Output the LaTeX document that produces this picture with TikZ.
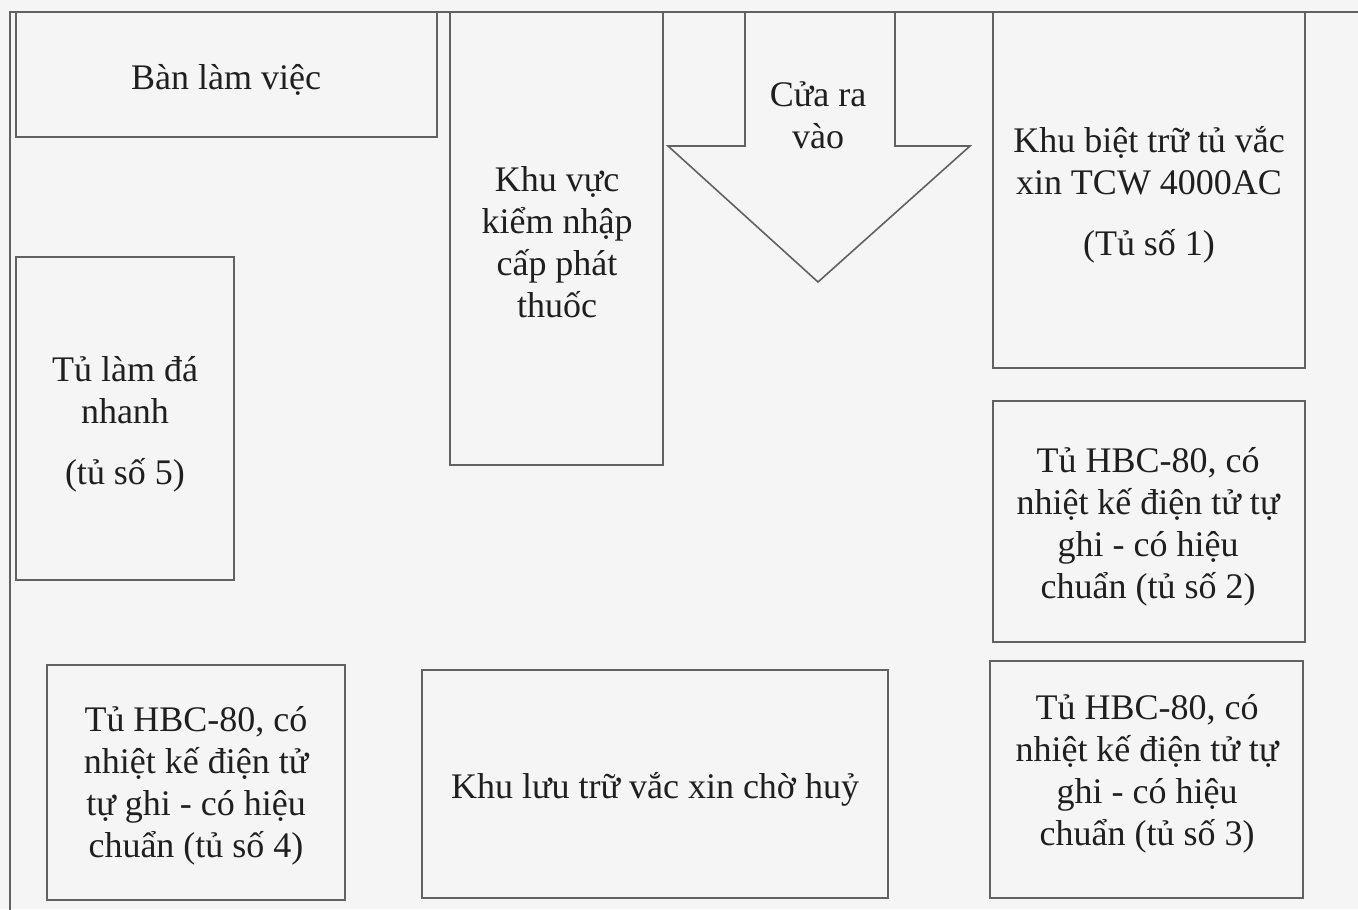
\documentclass[tikz,border=0pt]{standalone}
\usepackage{fontspec}
\setmainfont{Liberation Serif}
\usepackage{tkz-euclide}
\usetikzlibrary{calc}

\begin{document}
\begin{tikzpicture}[x=0.75pt,y=-0.75pt,
        wall/.style={draw=black!62,line width=1.2pt},
        roomtext/.style={text=black!88,align=center,inner sep=0pt,
            font=\fontsize{27}{31.5}\selectfont}]
                \useasboundingbox (0,0) rectangle (1358,909);
                \fill[black!4] (0,0) rectangle (1358,909);
                \clip (0,0) rectangle (1358,909);

                \draw[wall] (10,12) rectangle (1390,940);

                \draw[wall] (16,12) rectangle (437,137);
                \node[roomtext] (ban) at (226,80) {Bàn làm việc};

                \draw[wall] (450,12) rectangle (663,465);
                \node[roomtext] (kiemnhap) at (557,242) {Khu vực\\kiểm nhập\\cấp phát\\thuốc};

                \tkzDefPoint(745,12){C1}
                \tkzDefPoint(745,146){C2}
                \tkzDefPoint(668,146){C3}
                \tkzDefPoint(818,282){C4}
                \tkzDefPoint(970,146){C5}
                \tkzDefPoint(895,146){C6}
                \tkzDefPoint(895,12){C7}
                \draw[wall] (C1) -- (C2) -- (C3) -- (C4) -- (C5) -- (C6) -- (C7);
                \node[roomtext] (cua) at (818,115) {Cửa ra\\vào};

                \draw[wall] (993,12) rectangle (1305,368);
                \node[roomtext] (tu1) at (1149,195) {Khu biệt trữ tủ vắc\\xin TCW 4000AC\\[14pt](Tủ số 1)};

                \draw[wall] (16,257) rectangle (234,580);
                \node[roomtext] (tu5) at (125,424) {Tủ làm đá\\nhanh\\[14pt](tủ số 5)};

                \draw[wall] (993,401) rectangle (1305,642);
                \node[roomtext] (tu2) at (1148,527) {Tủ HBC-80, có\\nhiệt kế điện tử tự\\ghi - có hiệu\\chuẩn (tủ số 2)};

                \draw[wall] (990,661) rectangle (1303,898);
                \node[roomtext] (tu3) at (1147,774) {Tủ HBC-80, có\\nhiệt kế điện tử tự\\ghi - có hiệu\\chuẩn (tủ số 3)};

                \draw[wall] (47,665) rectangle (345,900);
                \node[roomtext] (tu4) at (196,786) {Tủ HBC-80, có\\nhiệt kế điện tử\\tự ghi - có hiệu\\chuẩn (tủ số 4)};

                \draw[wall] (422,670) rectangle (888,898);
                \node[roomtext] (huy) at (655,789) {Khu lưu trữ vắc xin chờ huỷ};
            \end{tikzpicture}
\end{document}
